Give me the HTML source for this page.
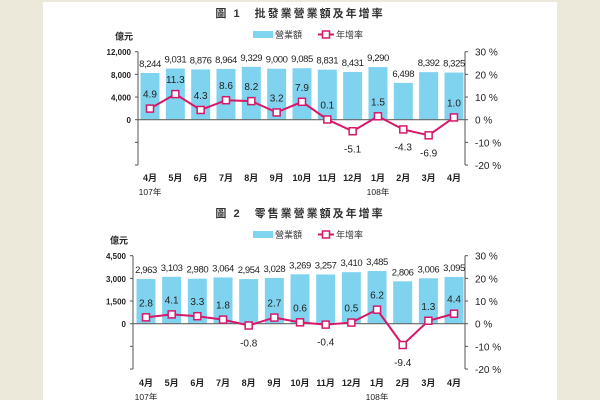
<!DOCTYPE html>
<html><head><meta charset="utf-8">
<style>
body{margin:0;width:600px;height:400px;background:#ece8da;overflow:hidden;font-family:"Liberation Sans","Noto Sans CJK TC",sans-serif}
#panel{position:absolute;left:43px;top:2px;width:514px;height:398px;background:#fff}
svg{position:absolute;left:0;top:0}
</style></head><body>
<div id="panel"></div>
<svg id="c" width="600" height="400"></svg>
<script>
const months=["4月","5月","6月","7月","8月","9月","10月","11月","12月","1月","2月","3月","4月"];
const wholesaleSales=[8244,9031,8876,8964,9329,9000,9085,8831,8431,9290,6498,8392,8325];
const wholesaleGrowth=[4.9,11.3,4.3,8.6,8.2,3.2,7.9,0.1,-5.1,1.5,-4.3,-6.9,1.0];
const retailSales=[2963,3103,2980,3064,2954,3028,3269,3257,3410,3485,2806,3006,3095];
const retailGrowth=[2.8,4.1,3.3,1.8,-0.8,2.7,0.6,-0.4,0.5,6.2,-9.4,1.3,4.4];
const leftTicks1=["0","4,000","8,000","12,000"];
const leftTicks2=["0","1,500","3,000","4,500"];
const rightTicks=["-20 %","-10 %","0 %","10 %","20 %","30 %"];
const ns="http://www.w3.org/2000/svg";
const svg=document.getElementById('c');
function mk(t,a,txt){const e=document.createElementNS(ns,t);for(const k in a)e.setAttribute(k,a[k]);if(txt!==undefined)e.textContent=txt;svg.appendChild(e);return e;}
function fmt(v){return v.toLocaleString('en-US');}
function chart(o){
  const {off,axL,x0,dx,zero,top,sales,growth,smax,lt,title}=o;
  const axR=465, unit=(zero-top)/3;
  const yS=v=>zero-v/smax*(zero-top);
  const yG=v=>zero-v/30*(zero-top);
  const bottom=zero+2*unit*(30/30)*1; // -20% level
  const yBot=yG(-20);
  let e=mk('text',{x:300,y:off+17,'text-anchor':'middle','font-size':11,'font-weight':'bold',fill:'#333','letter-spacing':'2'},title);
  
  e=mk('rect',{x:253,y:off+31,width:20,height:7,fill:'#7fd3ef'});
  
  e=mk('text',{x:275,y:off+38,'font-size':9,fill:'#333'},'營業額');
  
  mk('line',{x1:318,x2:334,y1:off+34.5,y2:off+34.5,stroke:'#d6186a','stroke-width':2});
  e=mk('rect',{x:322.5,y:off+31,width:7,height:7,fill:'#fff',stroke:'#d6186a','stroke-width':1.5});
  
  e=mk('text',{x:336,y:off+38,'font-size':9,fill:'#333'},'年增率');
  
  e=mk('text',{x:axL-14,y:top-12,'text-anchor':'middle','font-size':9,'font-weight':'bold',fill:'#222'},'億元');
  
  mk('line',{x1:axL,x2:axL,y1:top,y2:yBot,stroke:'#555','stroke-width':1});
  mk('line',{x1:axR,x2:axR,y1:top,y2:yBot,stroke:'#555','stroke-width':1});
  for(let i=0;i<6;i++){const y=yG(-20+10*i);
    mk('line',{x1:axL-3,x2:axL,y1:y,y2:y,stroke:'#555'});
    mk('line',{x1:axR,x2:axR+3,y1:y,y2:y,stroke:'#555'});
    e=mk('text',{x:475,y:y+4,'font-size':10,fill:'#222'},rightTicks[i]);
    }
  lt.forEach((t,i)=>{const y=yS(i*smax/3);
    e=mk('text',{x:axL-7,y:y+3.5,'text-anchor':'end','font-size':8,'font-weight':'bold',fill:'#222'},t);
    });
  sales.forEach((v,i)=>{const cx=x0+i*dx;
    e=mk('rect',{x:cx-9.5,y:yS(v),width:19,height:zero-yS(v),fill:'#7fd3ef'});
    
    e=mk('text',{x:cx,y:yS(v)-6,'text-anchor':'middle','font-size':9.5,fill:'#222','letter-spacing':'-0.4'},fmt(v));
    
    e=mk('text',{x:cx,y:off+(o.mY),'text-anchor':'middle','font-size':9,'font-weight':'bold',fill:'#222'},months[i]);
    });
  [[0,'107年'],[9,'108年']].forEach(([i,t])=>{e=mk('text',{x:x0+i*dx,y:off+o.mY+14,'text-anchor':'middle','font-size':8.5,fill:'#222'},t);
    });
  mk('line',{x1:axL,x2:axR,y1:zero,y2:zero,stroke:'#666','stroke-width':1.2});
  const pts=growth.map((v,i)=>(x0+i*dx)+','+yG(v)).join(' ');
  e=mk('polyline',{points:pts,fill:'none',stroke:'#d6186a','stroke-width':2});
  
  growth.forEach((v,i)=>{const cx=x0+i*dx,y=yG(v);
    e=mk('rect',{x:cx-3.5,y:y-3.5,width:7,height:7,fill:'#fff',stroke:'#d6186a','stroke-width':1.5});
    
    const ly=v<0?y+21:y-11;
    e=mk('text',{x:cx,y:ly,'text-anchor':'middle','font-size':10,fill:'#222'},v.toFixed(1));
    });
}
chart({off:0,axL:138,x0:150,dx:25.33,zero:119.7,top:51.7,sales:wholesaleSales,growth:wholesaleGrowth,smax:12000,lt:leftTicks1,title:'圖 1　批發業營業額及年增率',mY:181});
chart({off:200,axL:133,x0:146,dx:25.67,zero:323.7,top:255.7,sales:retailSales,growth:retailGrowth,smax:4500,lt:leftTicks2,title:'圖 2　零售業營業額及年增率',mY:186});
</script>
</body></html>
